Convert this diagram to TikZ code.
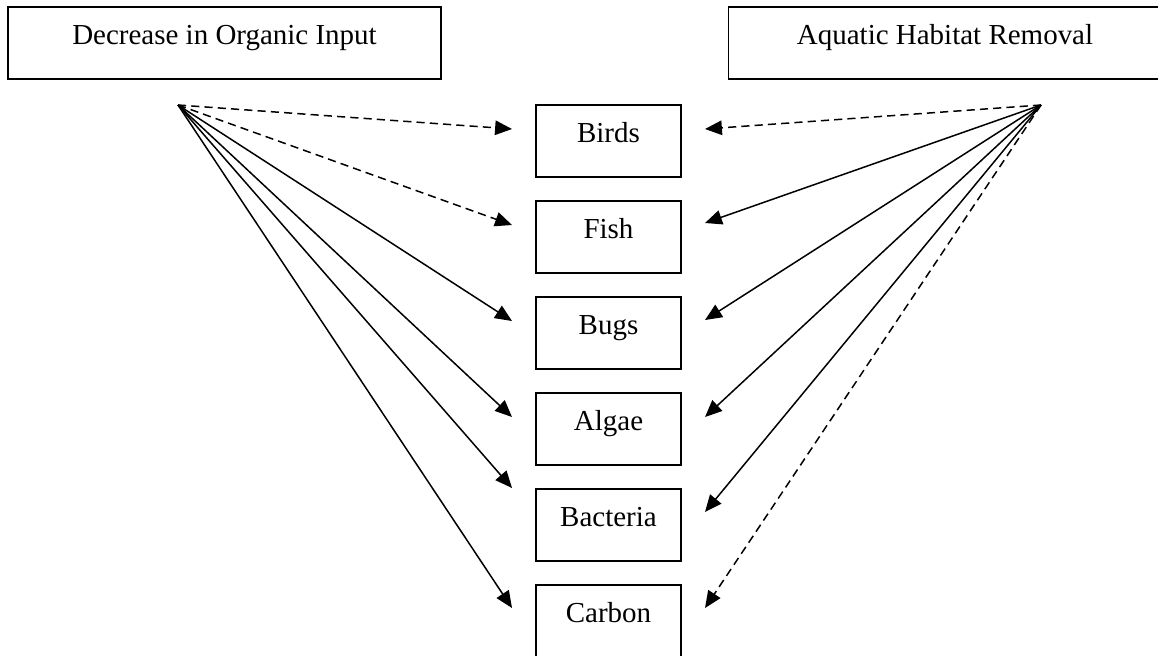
\documentclass[tikz,border=0pt]{standalone}
\usepackage{fontspec}
\setmainfont{Liberation Serif}
\usetikzlibrary{arrows.meta}
\begin{document}
\begin{tikzpicture}[x=0.414pt,y=-0.414pt,line cap=butt,
		box/.style={draw,line width=0.75pt,inner sep=0,text height=15.7pt,text depth=14.1pt,font=\fontsize{12pt}{14pt}\selectfont},
		smallbox/.style={box,minimum width=60pt},
		bigbox/.style={box,minimum width=179.3pt},
		arr/.style={line width=0.62pt,-{Triangle[length=7pt,width=6pt]}},
		darr/.style={arr,dash pattern=on 3.4pt off 2.1pt}]
	\useasboundingbox (0,0) rectangle (1158,655);
	\node[bigbox] (dec) at (224.5,43) {Decrease in Organic Input};
	\node[bigbox] (hab) at (945,43) {Aquatic Habitat Removal};
	\node[smallbox] (birds) at (608.5,141) {Birds};
	\node[smallbox] (fish) at (608.5,237) {Fish};
	\node[smallbox] (bugs) at (608.5,333) {Bugs};
	\node[smallbox] (algae) at (608.5,429) {Algae};
	\node[smallbox] (bact) at (608.5,525) {Bacteria};
	\node[smallbox] (carb) at (608.5,621) {Carbon};
	% fan points
	\coordinate (decsrc) at (178,105);
	\coordinate (habsrc) at (1041,105);
	% arrow ends, left side
	\coordinate (birdsL) at (512,129);
	\coordinate (fishL) at (512,225);
	\coordinate (bugsL) at (512,321);
	\coordinate (algaeL) at (512,417);
	\coordinate (bactL) at (512,488);
	\coordinate (carbL) at (512,608);
	% arrow ends, right side
	\coordinate (birdsR) at (705,129);
	\coordinate (fishR) at (705,223);
	\coordinate (bugsR) at (705,320);
	\coordinate (algaeR) at (705,417);
	\coordinate (bactR) at (705,512);
	\coordinate (carbR) at (705,608);
	\draw[darr] (decsrc) -- (birdsL);
	\draw[darr] (decsrc) -- (fishL);
	\draw[arr] (decsrc) -- (bugsL);
	\draw[arr] (decsrc) -- (algaeL);
	\draw[arr] (decsrc) -- (bactL);
	\draw[arr] (decsrc) -- (carbL);
	\draw[darr] (habsrc) -- (birdsR);
	\draw[arr] (habsrc) -- (fishR);
	\draw[arr] (habsrc) -- (bugsR);
	\draw[arr] (habsrc) -- (algaeR);
	\draw[arr] (habsrc) -- (bactR);
	\draw[darr] (habsrc) -- (carbR);
\end{tikzpicture}
\end{document}
